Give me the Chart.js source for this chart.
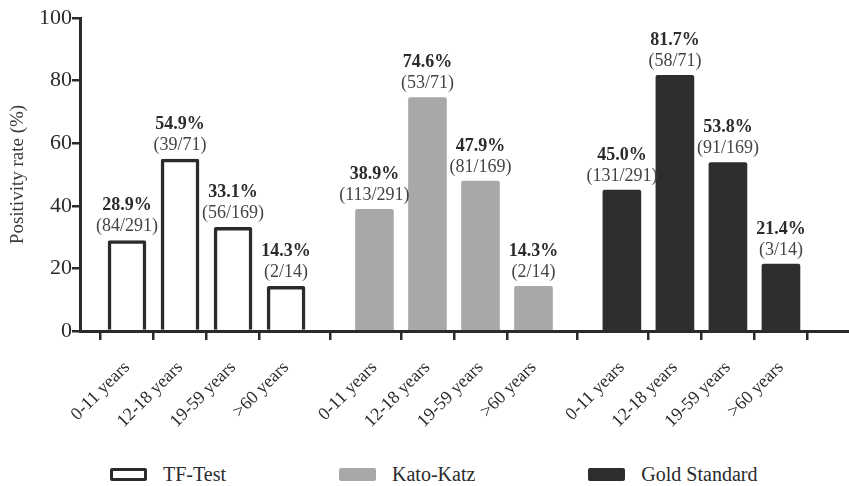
<!DOCTYPE html>
<html>
<head>
<meta charset="utf-8">
<script src="https://cdn.jsdelivr.net/npm/chart.js@4.4.0/dist/chart.umd.min.js"></script>
<style>
  html, body { margin: 0; padding: 0; background: #fff; }
  #wrap { position: relative; width: 849px; height: 452px; }
  #legend { display: flex; align-items: center; height: 34px; padding-top: 5px; padding-left: 110px; gap: 113px;
            font-family: "Liberation Serif"; font-size: 20px; color: #2b2b2b; }
  .item { display: flex; align-items: center; }
  .box { width: 37px; height: 13px; border-radius: 2px; box-sizing: border-box; margin-right: 16px; }
</style>
</head>
<body>
<div id="wrap"><canvas id="myChart"></canvas></div>
<div id="legend"></div>
<script>
var ageGroups = ['0-11 years', '12-18 years', '19-59 years', '>60 years'];
var methods = ['TF-Test', 'Kato-Katz', 'Gold Standard'];
var totals = [291, 71, 169, 14];
var tfPositive = [84, 39, 56, 2];
var kkPositive = [113, 53, 81, 2];
var gsPositive = [131, 58, 91, 3];
var tfRate = [28.9, 54.9, 33.1, 14.3];
var kkRate = [38.9, 74.6, 47.9, 14.3];
var gsRate = [45.0, 81.7, 53.8, 21.4];
var yTicks = [0, 20, 40, 60, 80, 100];

var ink = '#2b2b2b';
var fontName = '"Liberation Serif"';
Chart.defaults.font.family = fontName;

// bars sit on a linear axis: 3 units apart inside a method, 14 units between methods
function slot(g, i) { return g * 14 + i * 3; }

var positions = [];
for (var g = 0; g < methods.length; g++) {
    for (var i = 0; i < ageGroups.length; i++) positions.push(slot(g, i));
}

function points(g, rates) {
    return rates.map(function (r, i) { return {x: slot(g, i), y: r}; });
}

// two-line label above every bar: rate in bold, positives/total below
var barLabels = {
    id: 'barLabels',
    afterDatasetsDraw: function (chart) {
        var ctx = chart.ctx;
        chart.data.datasets.forEach(function (ds, di) {
            chart.getDatasetMeta(di).data.forEach(function (bar, i) {
                ctx.save();
                ctx.textAlign = 'center';
                ctx.textBaseline = 'middle';
                ctx.fillStyle = ink;
                ctx.font = 'bold 18px ' + fontName;
                ctx.fillText(ds.data[i].y.toFixed(1) + '%', bar.x, bar.y - 35);
                ctx.fillStyle = '#444';
                ctx.font = '18px ' + fontName;
                ctx.fillText('(' + ds.positives[i] + '/' + totals[i] + ')', bar.x, bar.y - 14);
                ctx.restore();
            });
        });
    }
};

var ctx = document.getElementById('myChart');
var myChart = new Chart(ctx, {
    type: 'bar',
    data: {
        datasets: [{
            label: methods[0],
            data: points(0, tfRate),
            positives: tfPositive,
            backgroundColor: '#ffffff',
            borderColor: ink,
            borderWidth: 3.5
        }, {
            label: methods[1],
            data: points(1, kkRate),
            positives: kkPositive,
            backgroundColor: '#a8a8aa',
            borderWidth: 0
        }, {
            label: methods[2],
            data: points(2, gsRate),
            positives: gsPositive,
            backgroundColor: '#2f2d2f',
            borderWidth: 0
        }]
    },
    options: {
        responsive: true,
        maintainAspectRatio: false,
        animation: false,
        layout: {padding: {top: 18, right: 0, left: 0, bottom: 0}},
        datasets: {bar: {barThickness: 38, grouped: false, borderRadius: 2, borderSkipped: 'bottom'}},
        plugins: {legend: {display: false}, tooltip: {enabled: false}},
        scales: {
            x: {
                type: 'linear',
                offset: false,
                min: -2.66,
                max: 40.85,
                afterBuildTicks: function (scale) {
                    scale.ticks = positions.map(function (v) { return {value: v}; });
                },
                afterFit: function (scale) { scale.height = 121; },
                ticks: {
                    autoSkip: false,
                    minRotation: 45,
                    maxRotation: 45,
                    padding: 17,
                    color: ink,
                    font: {family: fontName, size: 18},
                    callback: function (value, index) { return ageGroups[index % ageGroups.length]; }
                },
                grid: {drawOnChartArea: false, drawTicks: true, tickLength: 9, lineWidth: 2.5, color: ink},
                border: {display: true, width: 3, color: ink}
            },
            y: {
                min: 0,
                max: 100,
                afterBuildTicks: function (scale) {
                    scale.ticks = yTicks.map(function (v) { return {value: v}; });
                },
                afterFit: function (scale) { scale.width = 80; },
                ticks: {padding: 0, color: ink, font: {family: fontName, size: 22}},
                grid: {drawOnChartArea: false, drawTicks: true, tickLength: 8, lineWidth: 2.5, color: ink},
                border: {display: true, width: 3, color: ink},
                title: {display: true, text: 'Positivity rate (%)', color: '#3a3a3a',
                        font: {family: fontName, size: 19}, padding: {top: 7, bottom: 0}}
            }
        }
    },
    plugins: [barLabels]
});

// legend row under the canvas, built from the datasets
var legend = document.getElementById('legend');
myChart.data.datasets.forEach(function (ds) {
    var item = document.createElement('div');
    item.className = 'item';
    var box = document.createElement('span');
    box.className = 'box';
    box.style.background = ds.backgroundColor;
    if (ds.borderWidth) box.style.border = ds.borderWidth + 'px solid ' + ds.borderColor;
    var txt = document.createElement('span');
    txt.textContent = ds.label;
    item.appendChild(box);
    item.appendChild(txt);
    legend.appendChild(item);
});
</script>
</body>
</html>
